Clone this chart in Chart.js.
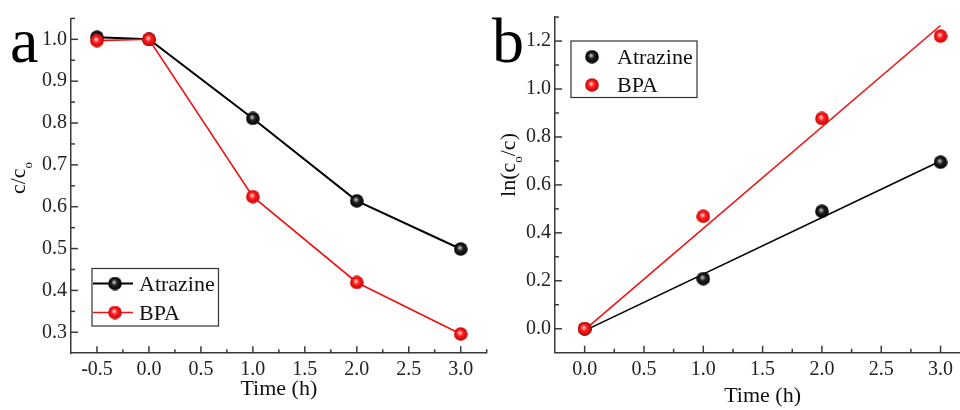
<!DOCTYPE html>
<html><head><meta charset="utf-8">
<script src="https://cdn.jsdelivr.net/npm/chart.js@4.4.0/dist/chart.umd.min.js"></script>
<style>
html,body{margin:0;padding:0;background:#fff;overflow:hidden;width:960px;height:410px;}
#wrap{position:relative;width:960px;height:410px;overflow:hidden;background:#fff;}
#ca{position:absolute;left:0;top:0;}
#cb{position:absolute;left:480px;top:0;}
</style></head><body>
<div id="wrap"><canvas id="ca" width="495" height="410"></canvas><canvas id="cb" width="500" height="410"></canvas></div>
<script>
// ---- data ----
const seriesNames = ['Atrazine', 'BPA'];
const timeA = [-0.5, 0, 1, 2, 3];
const atrazineA = [1.005, 1.0, 0.811, 0.614, 0.499];
const bpaA = [0.997, 1.0, 0.624, 0.419, 0.296];
const timeB = [0, 1, 2, 3];
const atrazineB = [0, 0.209, 0.490, 0.695];
const bpaB = [0, 0.469, 0.877, 1.221];
const fitTimeB = [0, 3];
const atrazineFitB = [-0.008, 0.700];
const bpaFitB = [-0.005, 1.265];
// ---- ticks ----
const xTicksA = [-0.5, 0, 0.5, 1, 1.5, 2, 2.5, 3];
const xMinorA = [-0.25, 0.25, 0.75, 1.25, 1.75, 2.25, 2.75, 3.25];
const yTicksA = [0.3, 0.4, 0.5, 0.6, 0.7, 0.8, 0.9, 1.0];
const yMinorA = [0.35, 0.45, 0.55, 0.65, 0.75, 0.85, 0.95, 1.05];
const xTicksB = [0, 0.5, 1, 1.5, 2, 2.5, 3];
const xMinorB = [0.25, 0.75, 1.25, 1.75, 2.25, 2.75, 3.25];
const yTicksB = [0, 0.2, 0.4, 0.6, 0.8, 1.0, 1.2];
const yMinorB = [0.1, 0.3, 0.5, 0.7, 0.9, 1.1, 1.3];
const xTitle = 'Time (h)';

const SERIF = '"Liberation Serif","Times New Roman",serif';
const axisColor = '#3a3a3a';
const RED = '#f01212';
const BLK = '#000000';

function sphere(hi, mid, dark, d) {
  const c = document.createElement('canvas');
  c.width = c.height = d;
  const g = c.getContext('2d');
  const r = d / 2;
  const grd = g.createRadialGradient(r * 0.85, r * 0.8, 0.3, r, r, r);
  grd.addColorStop(0, hi);
  grd.addColorStop(0.4, mid);
  grd.addColorStop(1, dark);
  g.fillStyle = grd;
  g.beginPath(); g.arc(r, r, r - 0.2, 0, Math.PI * 2); g.fill();
  return c;
}
const blackBall = sphere('#c8c8c8', '#202020', '#000000', 14);
const redBall = sphere('#ffd6d6', '#ff2020', '#c80000', 14);

function pts(xs, ys) { return xs.map((x, i) => ({x: x, y: ys[i]})); }

function linScale(min, max, ticks, isX, size) {
  return {
    type: 'linear', min: min, max: max,
    afterBuildTicks: s => { s.ticks = ticks.map(v => ({value: v})); },
    afterFit: s => { if (isX) s.height = size; else s.width = size; },
    grid: {drawOnChartArea: false, drawTicks: false},
    border: {display: true, color: axisColor, width: 1.5},
    ticks: {
      callback: v => Number(v).toFixed(1),
      color: '#222', font: {family: SERIF, size: 20},
      padding: isX ? 5 : 4, autoSkip: false, maxRotation: 0, minRotation: 0
    }
  };
}

function decor(cfg) {
  return {
    id: 'decor',
    afterDraw(chart) {
      const ctx = chart.ctx, a = chart.chartArea;
      const xs = chart.scales.x, ys = chart.scales.y;
      ctx.save();
      ctx.strokeStyle = axisColor; ctx.lineWidth = 1.5;
      const ln = (x1, y1, x2, y2) => { ctx.beginPath(); ctx.moveTo(x1, y1); ctx.lineTo(x2, y2); ctx.stroke(); };
      cfg.xMaj.forEach(v => { const p = xs.getPixelForValue(v); ln(p, a.bottom, p, a.bottom - 7); });
      cfg.xMin.forEach(v => { const p = xs.getPixelForValue(v); ln(p, a.bottom, p, a.bottom - 4); });
      cfg.yMaj.forEach(v => { const p = ys.getPixelForValue(v); ln(a.left, p, a.left + 7, p); });
      cfg.yMin.forEach(v => { const p = ys.getPixelForValue(v); ln(a.left, p, a.left + 4, p); });
      // panel letter
      ctx.fillStyle = '#000';
      ctx.font = '64px ' + SERIF;
      ctx.textBaseline = 'alphabetic'; ctx.textAlign = 'left';
      ctx.fillText(cfg.letter, cfg.letterX, 62);
      // x title
      ctx.font = '22px ' + SERIF; ctx.fillStyle = '#111';
      ctx.textAlign = 'center'; ctx.textBaseline = 'middle';
      ctx.fillText(xTitle, (a.left + a.right) / 2, cfg.xTitleY);
      // y title with subscript
      ctx.save();
      ctx.translate(cfg.yTitleX, cfg.yTitleY);
      ctx.rotate(-Math.PI / 2);
      ctx.textAlign = 'left'; ctx.textBaseline = 'alphabetic';
      let total = 0;
      cfg.yParts.forEach(p => { ctx.font = p[1] + 'px ' + SERIF; total += ctx.measureText(p[0]).width; });
      let x = -total / 2;
      cfg.yParts.forEach(p => { ctx.font = p[1] + 'px ' + SERIF; ctx.fillText(p[0], x, p[2]); x += ctx.measureText(p[0]).width; });
      ctx.restore();
      // legend
      const L = cfg.legend;
      ctx.fillStyle = '#fff';
      ctx.fillRect(L.x1, L.y1, L.x2 - L.x1, L.y2 - L.y1);
      ctx.strokeStyle = '#333'; ctx.lineWidth = 1.2;
      ctx.strokeRect(L.x1, L.y1, L.x2 - L.x1, L.y2 - L.y1);
      chart.data.datasets.filter(d => d.inLegend).forEach((d, i) => {
        const y = L.rows[i];
        if (L.line) {
          ctx.strokeStyle = d.borderColor; ctx.lineWidth = d.borderWidth;
          ln(L.lineX1, y, L.lineX2, y);
        }
        ctx.drawImage(d.pointStyle, L.markX - 7, y - 7, 14, 14);
        ctx.fillStyle = '#111'; ctx.font = '22px ' + SERIF;
        ctx.textAlign = 'left'; ctx.textBaseline = 'alphabetic';
        ctx.fillText(d.label, L.textX, y + 7);
      });
      ctx.restore();
    }
  };
}

const common = {
  responsive: false, animation: false, events: [],
  plugins: {legend: {display: false}, tooltip: {enabled: false}}
};

new Chart(document.getElementById('ca'), {
  type: 'scatter',
  data: {datasets: [
    {label: seriesNames[0], inLegend: true, data: pts(timeA, atrazineA), showLine: true, borderColor: BLK, borderWidth: 2,
     pointStyle: blackBall, pointRadius: 7, order: 2},
    {label: seriesNames[1], inLegend: true, data: pts(timeA, bpaA), showLine: true, borderColor: RED, borderWidth: 1.6,
     pointStyle: redBall, pointRadius: 7, order: 1}
  ]},
  options: Object.assign({}, common, {
    layout: {autoPadding: false, padding: {left: 0, top: 18.4, right: 8.3, bottom: 0}},
    scales: {
      x: linScale(-0.75, 3.25, xTicksA, true, 56.8),
      y: linScale(0.25, 1.05, yTicksA, false, 71)
    }
  }),
  plugins: [decor({
    xMaj: xTicksA, xMin: xMinorA, yMaj: yTicksA, yMin: yMinorA,
    letter: 'a', letterX: 10, xTitleY: 389, yTitleX: 25, yTitleY: 178,
    yParts: [['c/c', 22, 0], ['o', 13, 7]],
    legend: {x1: 92, y1: 268.5, x2: 218.5, y2: 326, rows: [283.5, 312.5], line: true, lineX1: 93, lineX2: 133, markX: 115, textX: 139}
  })]
});

new Chart(document.getElementById('cb'), {
  type: 'scatter',
  data: {datasets: [
    {label: seriesNames[0], inLegend: true, data: pts(timeB, atrazineB), showLine: false,
     pointStyle: blackBall, pointRadius: 7, borderColor: BLK, borderWidth: 1.6, order: 2},
    {label: seriesNames[1], inLegend: true, data: pts(timeB, bpaB), showLine: false,
     pointStyle: redBall, pointRadius: 7, borderColor: RED, borderWidth: 1.6, order: 1},
    {label: 'Atrazine fit', data: pts(fitTimeB, atrazineFitB), showLine: true, borderColor: BLK, borderWidth: 1.6,
     pointRadius: 0, order: 4},
    {label: 'BPA fit', data: pts(fitTimeB, bpaFitB), showLine: true, borderColor: RED, borderWidth: 1.6,
     pointRadius: 0, order: 3}
  ]},
  options: Object.assign({}, common, {
    layout: {autoPadding: false, padding: {left: 0, top: 17.1, right: 9.8, bottom: 0}},
    scales: {
      x: linScale(-0.25, 3.25, xTicksB, true, 57.3),
      y: linScale(-0.1, 1.3, yTicksB, false, 75)
    }
  }),
  plugins: [decor({
    xMaj: xTicksB, xMin: xMinorB, yMaj: yTicksB, yMin: yMinorB,
    letter: 'b', letterX: 12, xTitleY: 396, yTitleX: 35, yTitleY: 165,
    yParts: [['ln(c', 22, 0], ['o', 13, 7], ['/c)', 22, 0]],
    legend: {x1: 91, y1: 41, x2: 217, y2: 97.5, rows: [56.7, 85], line: false, markX: 112, textX: 137}
  })]
});
</script>
</body></html>
